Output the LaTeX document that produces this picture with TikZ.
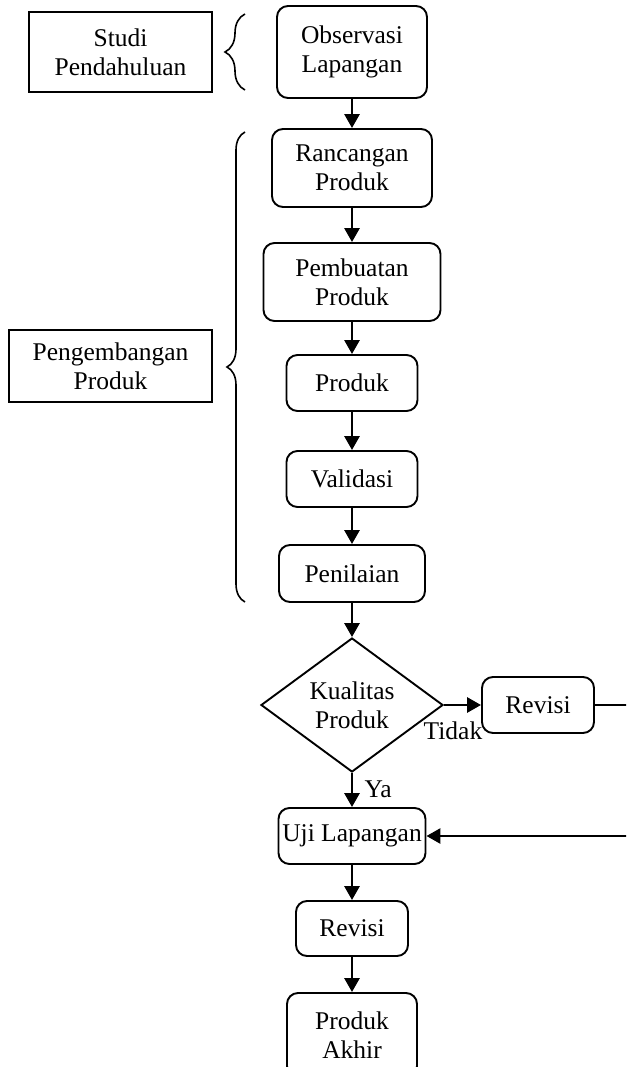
\documentclass[tikz,border=0pt]{standalone}
\usepackage{fontspec}
\setmainfont{Liberation Serif}
\usetikzlibrary{positioning,arrows.meta,shapes.geometric,decorations.pathreplacing}

\begin{document}
\begin{tikzpicture}[
  x=1pt, y=-1pt,
  font=\fontsize{25.5}{29}\selectfont,
  box/.style={draw,line width=1.9pt,align=center,inner sep=2pt},
  stepbox/.style={box,rounded corners=11pt},
  choice/.style={draw,diamond,line width=1.9pt,align=center,inner sep=0pt},
  brc/.style={decorate,decoration={brace,amplitude=#1},line width=1.6pt},
  ar/.style={-{Triangle[length=14pt,width=15pt]},line width=2.8pt}
]
\useasboundingbox (0,0) rectangle (626,1067);
\clip (0,0) rectangle (626,1067);

% --- stage labels on the left ---
\node[box,minimum width=183pt,minimum height=80pt] (studi) at (120.5,52) {Studi\\Pendahuluan};
\node[box,minimum width=203pt,minimum height=72pt] (kembang) at (110.5,366) {Pengembangan\\Produk};
\draw[brc=20pt] (245,90) -- (245,14);
\draw[brc=18pt] (245,602) -- (245,132);

% --- main flow ---
\node[stepbox,minimum width=150pt,minimum height=92pt] (obs) at (352,52) {Observasi\\Lapangan};
\node[stepbox,minimum width=160pt,minimum height=78pt] (ranc) at (352,168) {Rancangan\\Produk};
\node[stepbox,minimum width=177pt,minimum height=78pt] (pemb) at (352,282) {Pembuatan\\Produk};
\node[stepbox,minimum width=131pt,minimum height=56pt] (prod) at (352,383) {Produk};
\node[stepbox,minimum width=131pt,minimum height=56pt] (valid) at (352,479) {Validasi};
\node[stepbox,minimum width=146pt,minimum height=57pt] (nilai) at (352,573.5) {Penilaian};
\node[choice,minimum width=182pt,minimum height=134pt] (kual) at (352,705) {Kualitas\\Produk};
\node[stepbox,minimum width=112pt,minimum height=56pt] (rev1) at (538,705) {Revisi};
\node[stepbox,minimum width=147pt,minimum height=56pt] (uji) at (352,836) {Uji Lapangan};
\node[stepbox,minimum width=112pt,minimum height=55pt] (rev2) at (352,928.5) {Revisi};
\node[stepbox,minimum width=130pt,minimum height=84pt] (akhir) at (352,1035) {Produk\\Akhir};

\node[anchor=base] (tidak) at (453,739) {Tidak};
\node[anchor=base west] (ya) at (361,797) {Ya};

\draw[ar] (obs) -- (ranc);
\draw[ar] (ranc) -- (pemb);
\draw[ar] (pemb) -- (prod);
\draw[ar] (prod) -- (valid);
\draw[ar] (valid) -- (nilai);
\draw[ar] (nilai) -- (kual);
\draw[ar] (kual.east) -- (rev1.west);
\draw[ar] (kual) -- (uji);
\draw[ar] (uji) -- (rev2);
\draw[ar] (rev2) -- (akhir);
% revision loop runs past the right edge
\coordinate (loop) at (660,705);
\draw[ar] (rev1.east) -- (loop) |- (uji.east);
\end{tikzpicture}
\end{document}
